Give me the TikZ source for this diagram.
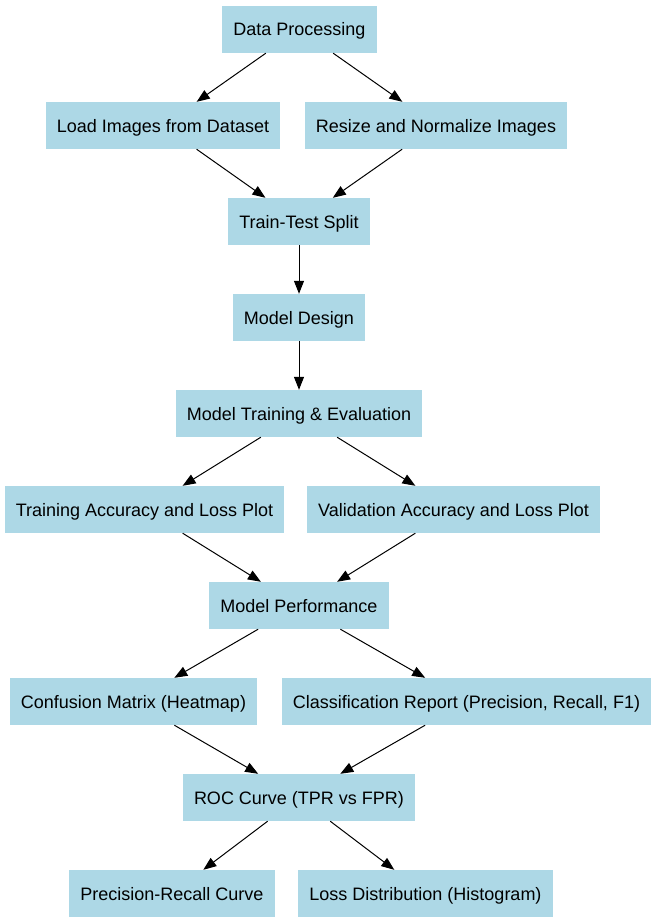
\documentclass[tikz,border=0pt]{standalone}
\usepackage{fontspec}
\setmainfont{Liberation Sans}
\usetikzlibrary{arrows.meta}
\definecolor{boxblue}{HTML}{ADD8E6}
\begin{document}
\begin{tikzpicture}[x=1pt, y=-1pt,
		stage/.style={rectangle, fill=boxblue, minimum height=47pt, inner xsep=11pt, inner ysep=0pt, text height=17pt, text depth=4pt, font=\fontsize{18}{22}\selectfont},
		flow/.style={-{Triangle[length=13pt, width=10pt]}, line width=1pt}]
			\useasboundingbox (0,0) rectangle (655,923);
			\node[stage] (dataproc) at (299.5,29.5) {Data Processing};
			\node[stage] (loadimg) at (163,125.5) {Load Images from Dataset};
			\node[stage] (resize) at (436,125.5) {Resize and Normalize Images};
			\node[stage] (split) at (299,221.5) {Train-Test Split};
			\node[stage] (design) at (299,317.5) {Model Design};
			\node[stage] (train) at (299,413.5) {Model Training \& Evaluation};
			\node[stage] (trainplot) at (144.5,509.5) {Training Accuracy and Loss Plot};
			\node[stage] (valplot) at (453.5,509.5) {Validation Accuracy and Loss Plot};
			\node[stage] (perf) at (299,605.5) {Model Performance};
			\node[stage] (confusion) at (133.5,701.5) {Confusion Matrix (Heatmap)};
			\node[stage] (report) at (466.5,701.5) {Classification Report (Precision, Recall, F1)};
			\node[stage] (roc) at (299,797.5) {ROC Curve (TPR vs FPR)};
			\node[stage] (prcurve) at (172,893.5) {Precision-Recall Curve};
			\node[stage] (lossdist) at (425.5,893.5) {Loss Distribution (Histogram)};
			\foreach \a/\b in {dataproc/loadimg, dataproc/resize, loadimg/split, resize/split, split/design, design/train, train/trainplot, train/valplot, trainplot/perf, valplot/perf, perf/confusion, perf/report, confusion/roc, report/roc, roc/prcurve, roc/lossdist}
				{
					\draw[flow] (\a) -- (\b);
				}
		\end{tikzpicture}
\end{document}
